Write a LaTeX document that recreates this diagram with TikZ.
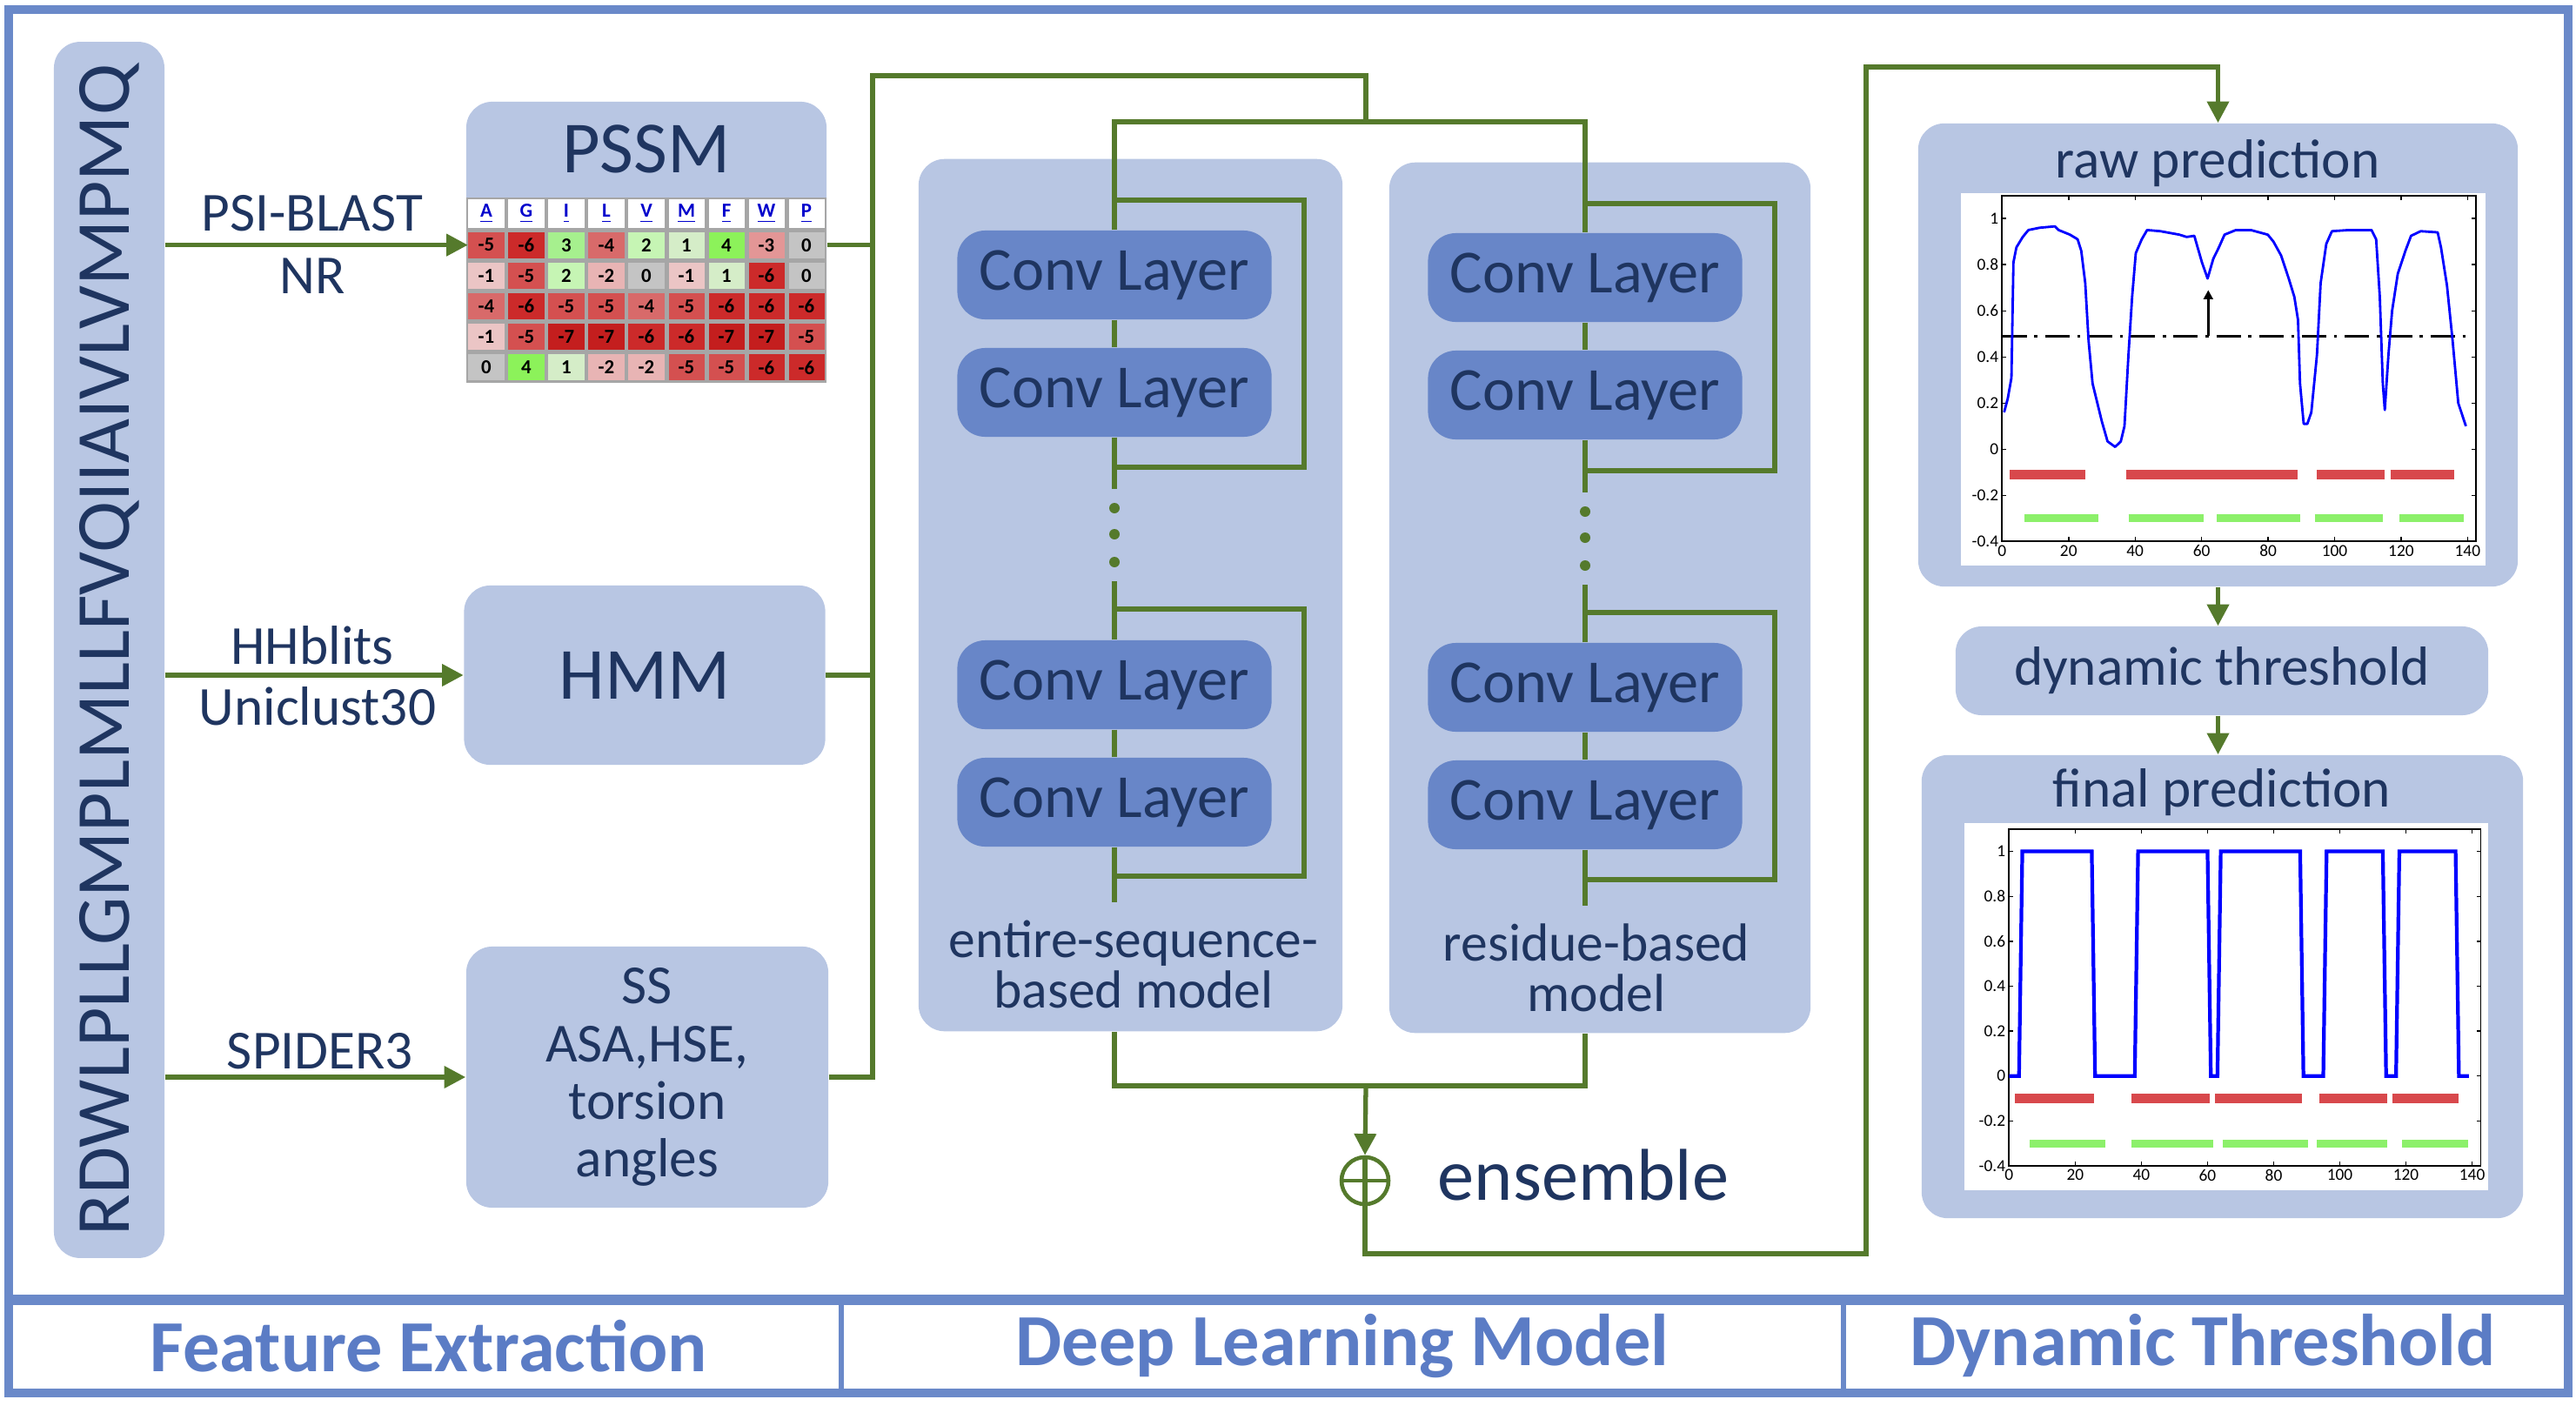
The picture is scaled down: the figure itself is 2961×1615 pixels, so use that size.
\documentclass[tikz,border=0pt]{standalone}
\usepackage{fontspec}
\setmainfont{Carlito}
\usetikzlibrary{arrows.meta, calc}

\definecolor{boxblue}{HTML}{B8C6E3}
\definecolor{convblue}{HTML}{6886C8}
\definecolor{navy}{HTML}{1F3560}
\definecolor{lgreen}{HTML}{557A2C}
\definecolor{frameblue}{HTML}{6A89C9}
\definecolor{capblue}{HTML}{5B7CC5}
\definecolor{barred}{HTML}{D8484C}
\definecolor{bargreen}{HTML}{8CF06A}
% pssm cell colours
\definecolor{cp4}{HTML}{8CF25A}
\definecolor{cp3}{HTML}{A6F08E}
\definecolor{cp2}{HTML}{C6F5B4}
\definecolor{cp1}{HTML}{D5EDC8}
\definecolor{cz}{HTML}{C4C4C4}
\definecolor{cm1}{HTML}{EBC5C5}
\definecolor{cm2}{HTML}{E8B4B4}
\definecolor{cm3}{HTML}{E39696}
\definecolor{cm4}{HTML}{D86A6A}
\definecolor{cm5}{HTML}{D45050}
\definecolor{cm6}{HTML}{CC2A2A}
\definecolor{cm7}{HTML}{C41E1E}

\begin{document}
\begin{tikzpicture}[
        x=0.01cm, y=-0.01cm,
        box/.style={fill=boxblue, rounded corners=0.3cm, inner sep=0pt},
        conv/.style={fill=convblue, rounded corners=0.32cm, minimum width=3.61cm,
            minimum height=1.02cm, inner sep=0pt, text=navy, font=\fontsize{20}{22}\selectfont},
        txt/.style={text=navy, inner sep=0pt, align=center},
        big/.style={font=\fontsize{24}{26}\selectfont},
        mid/.style={font=\fontsize{18}{18.8}\selectfont},
        gline/.style={draw=lgreen, line width=1.5pt},
        garrow/.style={gline, -{Triangle[length=7pt, width=7pt]}},
        cell/.style={minimum width=0.41cm, minimum height=0.30cm, inner sep=0pt,
            font=\bfseries\fontsize{6.5}{7}\selectfont},
        tick/.style={font=\fontsize{5.5}{6}\selectfont, inner sep=1pt},
        dot/.style={circle, fill=lgreen, inner sep=0pt, minimum size=0.12cm},
        caption/.style={text=capblue, font=\bfseries\fontsize{24}{26}\selectfont}
    ]
    \useasboundingbox (0,0) rectangle (2961,1615);

    % Frame and captions
    \draw[frameblue, line width=2.6pt] (10,11) rectangle (2952,1601);
    \draw[frameblue, line width=3.4pt] (10,1494) -- (2952,1494);
    \draw[frameblue, line width=1.5pt] (967,1494) -- (967,1601) (2119,1494) -- (2119,1601);
    \node[caption] (capfe) at (493,1547) {Feature Extraction};
    \node[caption] (capdl) at (1543,1547) {Deep Learning Model};
    \node[caption] (capdt) at (2532,1547) {Dynamic Threshold};

    % Sequence
    \node[box, rotate=90, minimum width=13.97cm, minimum height=1.27cm, text=navy,
        font=\fontsize{25}{27}\selectfont]
        (seq) at (125.5,747) {RDWLPLLGMPLMLLFVQIIAIVLVMPMQ};

    % PSSM
    \node[box, minimum width=4.14cm, minimum height=3.23cm] (pssm) at (743,278.5) {};
    \node[txt, big] (pssmt) at (743,171) {PSSM};
    \fill[gray!70] (536,227) rectangle (950,440);
    \foreach \a [count=\c] in {A,G,I,L,V,M,F,W,P}
        \node[cell, fill=white, text=blue!80!black, minimum height=0.32cm]
            (h\c) at ({536+(\c-0.5)*46},245.5) {\underline{\a}};
    \foreach \vals [count=\r] in {{-5,-6,3,-4,2,1,4,-3,0},{-1,-5,2,-2,0,-1,1,-6,0},
            {-4,-6,-5,-5,-4,-5,-6,-6,-6},{-1,-5,-7,-7,-6,-6,-7,-7,-5},{0,4,1,-2,-2,-5,-5,-6,-6}} {
        \foreach \v [count=\c] in \vals {
            \ifnum\v<0 \edef\cc{cm\number-\v}\else\ifnum\v=0 \def\cc{cz}\else\edef\cc{cp\v}\fi\fi
            \node[cell, fill=\cc] (c\r-\c) at ({536+(\c-0.5)*46},{264+(\r-0.5)*35.2}) {\v};
        }
    }

    % HMM and SPIDER3 features
    \node[box, minimum width=4.15cm, minimum height=2.06cm, txt, big] (hmm) at (741,776) {HMM};
    \node[box, minimum width=4.16cm, minimum height=3.0cm, txt, mid] (ss) at (744,1238)
        {SS\\ASA,HSE,\\torsion\\angles};

    % Tools
    \draw[garrow] (seq.south |- c1-1) -- (c1-1.west);
    \draw[garrow] (seq.south |- hmm) -- (hmm.west);
    \draw[garrow] (seq.south |- ss) -- (ss.west);
    \node[txt, mid] (psi) at (359,245) {PSI-BLAST};
    \node[txt, mid] (nr) at (359,317) {NR};
    \node[txt, mid] (hhb) at (359,742) {HHblits};
    \node[txt, mid] (uni) at (365,812) {Uniclust30};
    \node[txt, mid] (spd) at (368,1208) {SPIDER3};

    % Feature bus
    \coordinate (bustop) at (1003,87);
    \coordinate (split) at (1570,140);
    \draw[gline] (ss.east) -| (bustop) -| (split);
    \draw[gline] (pssm.east |- c1-9) -- (c1-9 -| bustop);
    \draw[gline] (hmm.east) -- (hmm -| bustop);

    % Models
    \node[box, minimum width=4.87cm, minimum height=10.02cm] (lmod) at (1299.5,684) {};
    \node[box, minimum width=4.84cm, minimum height=10.0cm] (rmod) at (1839,687) {};
    \node[txt, font=\fontsize{17.5}{16.5}\selectfont] (lmodt) at (1303,1108) {entire-sequence-\\based model};
    \node[txt, font=\fontsize{17.5}{16.5}\selectfont] (rmodt) at (1835,1112) {residue-based\\model};
    \foreach \n/\y in {1/316, 2/451, 3/787, 4/922} {
        \node[conv] (l\n) at (1281,\y) {Conv Layer};
        \node[conv] (r\n) at (1822,\y+3) {Conv Layer};
    }
    \foreach \m/\bx/\dy in {l/1499/0, r/2040/4} {
        \draw[gline] (\m1) -- (\m2);
        \draw[gline] (\m3) -- (\m4);
        \draw[gline] (\m2.south) -- (\m2 |- 0,562+\dy);
        \draw[gline] (\m3.north) -- (\m3 |- 0,668+\dy);
        \draw[gline] (\m4.south) -- (\m4 |- 0,1037+\dy);
        \draw[gline] (\m1 |- 0,230+\dy) -| (\bx,537+\dy) -- (\m1 |- 0,537+\dy);
        \draw[gline] (\m1 |- 0,700+\dy) -| (\bx,1007+\dy) -- (\m1 |- 0,1007+\dy);
        \foreach \yy in {584,614,646}
            \node[dot] (\m dot\yy) at (\m1 |- 0,\yy+\dy) {};
    }
    \draw[gline] (l1.north) |- (split) -| (r1.north);

    % Ensemble
    \coordinate (join) at (1570,1248);
    \node[circle, draw=lgreen, line width=1.3pt, minimum size=0.54cm, inner sep=0pt] (ens) at (1569,1357) {};
    \draw[lgreen, line width=1.3pt] (ens.west) -- (ens.east);
    \draw[gline] (l4 |- lmod.south) |- (join) -| (r4 |- rmod.south);
    \draw[garrow] (join) -- (ens.north);
    \node[txt, big] (enst) at (1820,1350) {ensemble};

    % Dynamic threshold
    \node[box, minimum width=6.89cm, minimum height=5.32cm] (raw) at (2549.5,408) {};
    \node[txt, mid] (rawt) at (2549,188) {raw prediction};
    \fill[white] (2254,222) rectangle (2857,650);
    \node[box, minimum width=6.12cm, minimum height=1.02cm, txt, mid] (dyn) at (2554,771) {dynamic threshold};
    \node[box, minimum width=6.91cm, minimum height=5.32cm] (fin) at (2554.5,1134) {};
    \node[txt, mid] (fint) at (2554,911) {final prediction};
    \fill[white] (2258,946) rectangle (2860,1368);
    \coordinate (turn1) at (2145,1441);
    \coordinate (turn2) at (2145,77);
    \draw[garrow] (ens.north) |- (turn1) -- (turn2) -| (raw.north);
    \draw[garrow] (raw.south) -- (raw.south |- dyn.north);
    \draw[garrow] (raw.south |- dyn.south) -- (raw.south |- fin.north);

    % Raw prediction plot
    \begin{scope}[xshift=23cm, yshift=-5.16cm, x=0.0382cm, y=2.65cm]
        \draw[line width=0.5pt] (0,-0.4) rectangle (142.6,1.1);
        \foreach \t [count=\i] in {0,20,...,140} {
            \draw[line width=0.4pt] (\t,-0.4) -- ++(0,0.02) (\t,1.1) -- ++(0,-0.02);
            \node[tick, below] (rx\i) at (\t,-0.4) {\t};
        }
        \foreach \t [count=\i] in {-0.4,-0.2,0,0.2,0.4,0.6,0.8,1} {
            \draw[line width=0.4pt] (0,\t) -- ++(1.3,0) (142.6,\t) -- ++(-1.3,0);
            \node[tick, left] (ry\i) at (0,\t) {\t};
        }
        \foreach \a/\b in {2.3/25, 37.4/89, 94.7/115, 116.8/136}
            \draw[barred, line width=3pt] (\a,-0.11) -- (\b,-0.11);
        \foreach \a/\b in {6.8/28.9, 38/60.7, 64.6/89.6, 94/114.5, 119.6/138.9}
            \draw[bargreen, line width=2.5pt] (\a,-0.3) -- (\b,-0.3);
        \draw[line width=0.8pt, dash pattern=on 8pt off 2.5pt on 1pt off 2.5pt] (0,0.49) -- (140,0.49);
        \draw[line width=0.8pt, -{Triangle[length=3pt, width=3pt]}] (62,0.49) -- (62,0.69);
        \draw[blue, line width=0.8pt, line join=round] plot coordinates {
            (0.6,0.16) (1.7,0.22) (2.8,0.31) (3.4,0.81) (4.3,0.875) (6.2,0.92) (7.9,0.95)
            (11.3,0.96) (15.9,0.966) (17,0.95) (20.4,0.93) (22.7,0.91) (23.8,0.86) (25,0.72)
            (26,0.47) (27.2,0.285) (28.3,0.22) (30,0.12) (31.7,0.034) (34,0.01) (35.7,0.034)
            (36.8,0.1) (38,0.41) (39.1,0.66) (40.2,0.85) (42,0.91) (43.6,0.95) (47.6,0.945)
            (53.3,0.93) (55.5,0.92) (57.8,0.925) (60.1,0.81) (61.8,0.74) (63.5,0.825)
            (65.2,0.875) (66.9,0.93) (70.3,0.95) (74.8,0.95) (79.9,0.93) (81.6,0.9)
            (83.9,0.84) (86.2,0.74) (87.9,0.66) (89,0.56) (89.6,0.285) (90.7,0.11)
            (91.8,0.11) (93,0.16) (94.7,0.41) (95.8,0.72) (97.5,0.89) (99.2,0.945)
            (104.3,0.95) (111.1,0.95) (112.5,0.91) (113.6,0.66) (114.5,0.285) (115.1,0.17)
            (116.2,0.41) (117.3,0.6) (119,0.76) (121.3,0.86) (123,0.925) (125.9,0.945)
            (131,0.94) (132,0.875) (133.8,0.71) (135.5,0.47) (137.2,0.2) (139.5,0.1)};
    \end{scope}

    % Final prediction plot
    \begin{scope}[xshift=23.08cm, yshift=-12.36cm, x=0.038cm, y=2.58cm]
        \draw[line width=0.5pt] (0,-0.4) rectangle (142.6,1.1);
        \foreach \t [count=\i] in {0,20,...,140} {
            \draw[line width=0.4pt] (\t,-0.4) -- ++(0,0.02) (\t,1.1) -- ++(0,-0.02);
            \node[tick, below] (fx\i) at (\t,-0.4) {\t};
        }
        \foreach \t [count=\i] in {-0.4,-0.2,0,0.2,0.4,0.6,0.8,1} {
            \draw[line width=0.4pt] (0,\t) -- ++(1.3,0) (142.6,\t) -- ++(-1.3,0);
            \node[tick, left] (fy\i) at (0,\t) {\t};
        }
        \foreach \a/\b in {1.7/25.7, 37.1/60.6, 62.3/88.6, 93.7/114.3, 116/136}
            \draw[barred, line width=3pt] (\a,-0.1) -- (\b,-0.1);
        \foreach \a/\b in {6.3/29.1, 37.1/61.7, 64.6/90.3, 93.1/114.3, 118.9/138.9}
            \draw[bargreen, line width=2.5pt] (\a,-0.3) -- (\b,-0.3);
        \draw[blue, line width=1.2pt] plot coordinates {
            (0,0) (3,0) (4,1) (25,1) (26,0) (38,0) (39,1) (60,1) (61,0) (63,0) (64,1)
            (88,1) (89,0) (95,0) (96,1) (113,1) (114,0) (117,0) (118,1) (135,1) (136,0) (139,0)};
    \end{scope}
\end{tikzpicture}
\end{document}
